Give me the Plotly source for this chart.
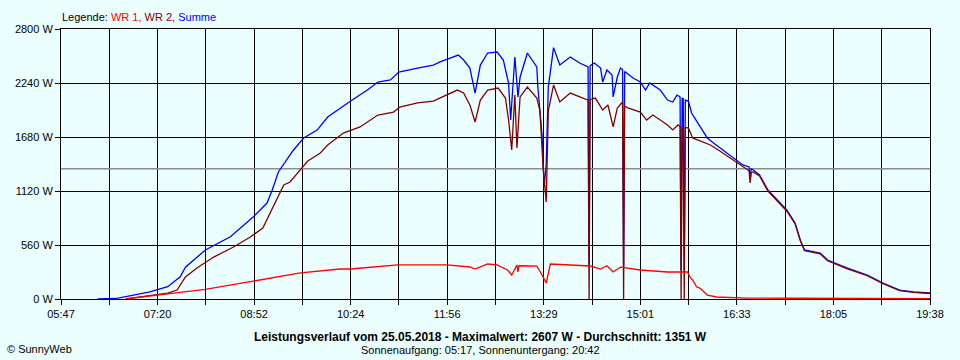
import plotly.graph_objects as go
import numpy as np

# ---- data ----
summe_time = ["06:22","06:39","06:49","07:12","07:29","07:41","07:46","08:05","08:29","08:51",
              "09:04","09:09","09:15","09:29","09:39","09:52","10:02","10:14","10:24","10:40",
              "10:50","11:02","11:10","11:28","11:43","11:50","11:56","12:07","12:12","12:18",
              "12:23","12:28","12:35","12:44","12:50","12:55","12:57","13:01","13:04","13:06",
              "13:13","13:22","13:23","13:27","13:29","13:31","13:33","13:38","13:44","13:54",
              "14:03","14:11","14:12","14:13","14:17","14:23","14:25","14:29","14:34","14:35",
              "14:39","14:42","14:44","14:45","14:46","14:48","14:54","15:01","15:06","15:10",
              "15:20","15:27","15:32","15:36","15:39","15:40","15:41","15:42","15:43","15:44",
              "15:47","15:50","15:58","16:05","16:11","16:27","16:39","16:45","16:46","16:47",
              "16:49","16:55","17:03","17:12","17:21","17:29","17:34","17:38","17:53","18:00",
              "18:19","18:38","18:53","19:09","19:22","19:38"]
summe_w = [0, 5, 25, 75, 127, 230, 330, 508, 646, 853,
           995, 1130, 1320, 1540, 1670, 1752, 1887, 1981, 2053, 2167,
           2250, 2271, 2354, 2395, 2426, 2461, 2488, 2530, 2478, 2395,
           2136, 2426, 2551, 2561, 2478, 2240, 1856, 2510, 2095, 2300,
           2551, 2406, 2198, 1700, 1160, 1400, 2198, 2607, 2426, 2510,
           2447, 2406, 342, 2420, 2447, 2395, 2250, 2375, 2323, 2095,
           2302, 2395, 2380, 330, 2360, 2343, 2292, 2250, 2167, 2240,
           2167, 2063, 2043, 2115, 2095, 300, 2080, 2080, 290, 2063,
           2050, 1929, 1784, 1670, 1618, 1490, 1390, 1370, 1234, 1350,
           1338, 1286, 1130, 1027, 923, 788, 612, 508, 477, 404,
           321, 249, 166, 93, 73, 62]

wr2_time = ["06:49","07:10","07:29","07:38","07:43","07:46","07:57","08:13","08:32","08:48",
            "09:00","09:07","09:17","09:20","09:26","09:36","09:43","09:55","10:02","10:17",
            "10:33","10:50","11:05","11:11","11:28","11:43","11:59","12:06","12:12","12:18",
            "12:23","12:28","12:35","12:45","12:52","12:55","12:58","13:01","13:03","13:06",
            "13:13","13:22","13:25","13:28","13:31","13:33","13:38","13:44","13:54","14:03",
            "14:11","14:12","14:13","14:18","14:25","14:30","14:35","14:39","14:44","14:45",
            "14:46","14:49","15:01","15:07","15:13","15:27","15:32","15:37","15:39","15:40",
            "15:41","15:42","15:43","15:44","15:47","15:51","16:08","16:17","16:30","16:41",
            "16:45","16:46","16:47","16:49","16:55","17:03","17:12","17:21","17:29","17:34",
            "17:38","17:53","18:00","18:19","18:38","18:53","19:09","19:22","19:38"]
wr2_w = [0, 31, 62, 93, 176, 228, 321, 435, 539, 643,
         736, 892, 1110, 1182, 1213, 1338, 1431, 1514, 1597, 1721,
         1784, 1908, 1939, 1991, 2033, 2053, 2136, 2167, 2136, 2012,
         1835, 2063, 2167, 2188, 2084, 1856, 1545, 2115, 1566, 2095,
         2198, 2084, 1950, 1369, 1006, 1950, 2219, 2043, 2136, 2095,
         2063, 0, 2070, 2084, 1960, 2012, 1784, 1981, 2043, 0,
         2000, 1981, 1939, 1856, 1908, 1805, 1753, 1805, 1790, 0,
         1780, 1780, 0, 1780, 1773, 1670, 1597, 1535, 1441, 1359,
         1330, 1203, 1310, 1317, 1275, 1120, 1017, 913, 780, 605,
         500, 468, 396, 313, 241, 158, 87, 68, 57]

wr1_time = ["06:49","07:10","07:19","08:05","08:51","09:36","10:14","10:24","11:09","11:56",
            "12:18","12:23","12:35","12:44","12:54","12:58","13:03","13:04","13:05","13:22",
            "13:27","13:31","13:35","13:51","14:13","14:23","14:29","14:35","14:42","15:01",
            "15:27","15:46","15:49","15:51","15:55","15:58","16:05","16:14","16:43","17:30",
            "18:00","19:00","19:38"]
wr1_w = [0, 24, 41, 100, 187, 270, 311, 311, 353, 353,
         332, 311, 363, 353, 301, 249, 353, 280, 345, 342,
         249, 166, 363, 353, 342, 311, 345, 280, 330, 301,
         280, 280, 218, 197, 124, 114, 41, 21, 10, 8,
         6, 5, 3]

average_w = 1351
x_tick_labels = ["05:47", "07:20", "08:52", "10:24", "11:56", "13:29", "15:01", "16:33", "18:05", "19:38"]
y_tick_values = [0, 560, 1120, 1680, 2240, 2800]

title_text = "Leistungsverlauf vom 25.05.2018 - Maximalwert: 2607 W - Durchschnitt: 1351 W"
subtitle_text = "Sonnenaufgang: 05:17, Sonnenuntergang: 20:42"


def tm(s):
    h, m = s.split(":")
    return int(h) * 60 + int(m)


x0 = tm(x_tick_labels[0])
x1 = tm(x_tick_labels[-1])
major = list(np.linspace(x0, x1, len(x_tick_labels)))
minor = [(a + b) / 2 for a, b in zip(major[:-1], major[1:])]

BG = "#EBFFFF"
FONT = "Liberation Sans"

fig = go.Figure()
fig.add_trace(go.Scatter(x=[x0, x1], y=[average_w, average_w], mode="lines",
                         line=dict(color="#8C8C8C", width=1.5), hoverinfo="skip", showlegend=False))
fig.add_trace(go.Scatter(x=[tm(t) for t in summe_time], y=summe_w, mode="lines", name="Summe",
                         line=dict(color="#0000FF", width=1.3), showlegend=False))
fig.add_trace(go.Scatter(x=[tm(t) for t in wr2_time], y=wr2_w, mode="lines", name="WR 2",
                         line=dict(color="#800000", width=1.3), showlegend=False))
fig.add_trace(go.Scatter(x=[tm(t) for t in wr1_time], y=wr1_w, mode="lines", name="WR 1",
                         line=dict(color="#FF0000", width=1.3), showlegend=False))

fig.update_layout(
    width=960, height=360,
    margin=dict(l=61, r=30, t=29, b=61),
    paper_bgcolor=BG, plot_bgcolor=BG,
    font=dict(family=FONT, size=11, color="black"),
    showlegend=False,
)
fig.update_xaxes(
    range=[x0, x1], tickmode="array", tickvals=major, ticktext=x_tick_labels,
    showgrid=True, gridcolor="black", gridwidth=1,
    showline=True, linecolor="black", linewidth=1, mirror=True,
    ticks="outside", ticklen=5, tickcolor="black", zeroline=False,
    tickfont=dict(family=FONT, size=11),
    minor=dict(tickvals=minor, showgrid=True, gridcolor="black", gridwidth=1,
               ticks="outside", ticklen=5, tickcolor="black"),
)
fig.update_yaxes(
    range=[0, 2800], tickmode="array", tickvals=y_tick_values,
    ticktext=[f"{v} W" for v in y_tick_values],
    showgrid=True, gridcolor="black", gridwidth=1,
    showline=True, linecolor="black", linewidth=1, mirror=True,
    ticks="outside", ticklen=5, tickcolor="black", zeroline=False,
    tickfont=dict(family=FONT, size=11),
)

legend_html = ("Legende: <span style='color:#FF0000'>WR 1,</span> "
               "<span style='color:#800000'>WR 2,</span> "
               "<span style='color:#0000FF'>Summe</span>")
fig.add_annotation(text=legend_html, xref="paper", yref="paper", x=-0.001, y=(299 - 17) / 270,
                   xanchor="left", yanchor="middle", showarrow=False,
                   font=dict(family=FONT, size=11, color="black"))
fig.add_annotation(text="<b>" + title_text + "</b>", xref="paper", yref="paper",
                   x=(480 - 61) / 869, y=(299 - 337) / 270, xanchor="center", yanchor="middle",
                   showarrow=False, font=dict(family=FONT, size=12, color="black"))
fig.add_annotation(text=subtitle_text, xref="paper", yref="paper",
                   x=(480 - 61) / 869, y=(299 - 350) / 270, xanchor="center", yanchor="middle",
                   showarrow=False, font=dict(family=FONT, size=11, color="black"))
fig.add_annotation(text="© SunnyWeb", xref="paper", yref="paper",
                   x=(5 - 61) / 869, y=(299 - 349) / 270, xanchor="left", yanchor="middle",
                   showarrow=False, font=dict(family=FONT, size=11, color="black"))

fig.write_html("out.html", config={"displayModeBar": False},
               post_script="document.body.style.margin='0';document.body.style.background='" + BG + "';")
